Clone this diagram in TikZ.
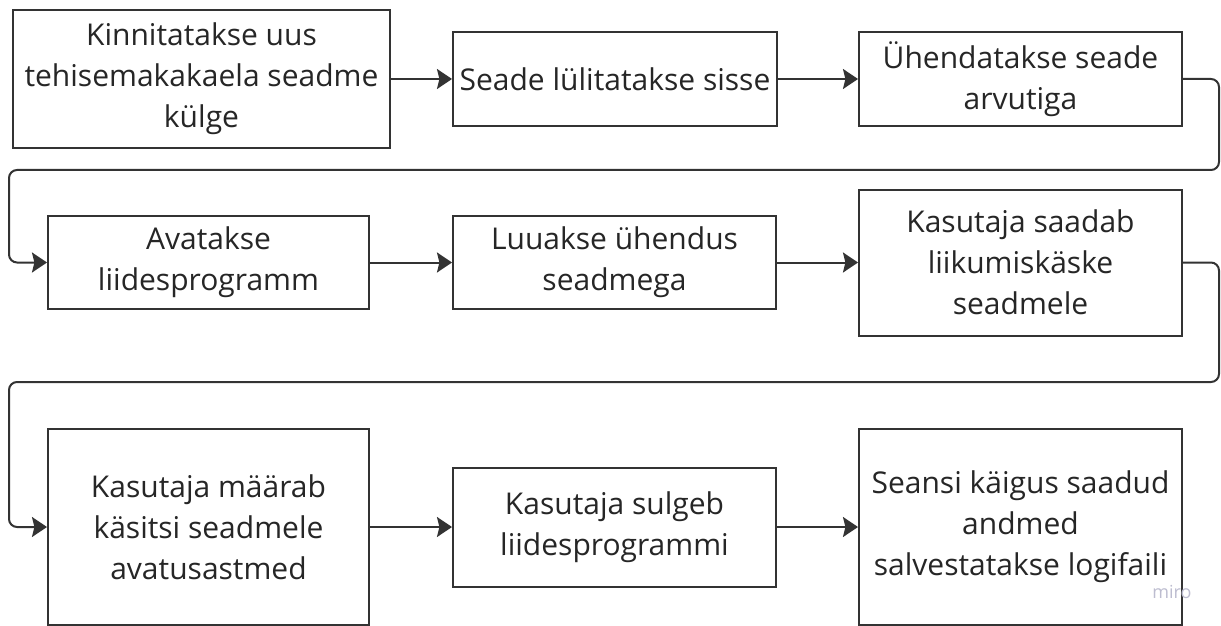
\documentclass[tikz,border=0pt]{standalone}
\usepackage{fontspec}
\setmainfont{Open Sans}
\usetikzlibrary{arrows.meta}
\definecolor{ink}{HTML}{333333}
\definecolor{txt}{HTML}{262626}
\definecolor{wm}{HTML}{BDBDD0}
\begin{document}
\begin{tikzpicture}[x=0.5pt,y=-0.5pt,
  stepbox/.style 2 args={draw=ink, line width=1pt, fill=white, inner sep=0pt,
    align=center, text=txt, font=\fontsize{15}{20.5}\selectfont,
    minimum width=#1*0.5pt, minimum height=#2*0.5pt},
  flow/.style={draw=ink, line width=1pt, rounded corners=4pt,
    -{Stealth[length=7.5pt,width=10pt,inset=1.2pt]}}]
\useasboundingbox (0,0) rectangle (1221,626);

% first row
\node[stepbox={377}{138}] (b1) at (201.5,79) {Kinnitatakse uus\\tehisemakakaela seadme\\külge};
\node[stepbox={324}{94}] (b2) at (615,79) {Seade lülitatakse sisse};
\node[stepbox={323}{94}] (b3) at (1020.5,79) {Ühendatakse seade\\arvutiga};

% second row
\node[stepbox={321}{93}] (b4) at (208.5,262.5) {Avatakse\\liidesprogramm};
\node[stepbox={323}{93}] (b5) at (614.5,262.5) {Luuakse ühendus\\seadmega};
\node[stepbox={323}{146}] (b6) at (1020.5,262.5) {Kasutaja saadab\\liikumiskäske\\seadmele};

% third row
\node[stepbox={321}{196}] (b7) at (208.5,527) {Kasutaja määrab\\käsitsi seadmele\\avatusastmed};
\node[stepbox={323}{119}] (b8) at (614.5,527) {Kasutaja sulgeb\\liidesprogrammi};
\node[stepbox={323}{196}] (b9) at (1020.5,527) {Seansi käigus saadud\\andmed\\salvestatakse logifaili};

% return paths between rows
\coordinate (r1) at (1219,170);
\coordinate (l1) at (9,170);
\coordinate (r2) at (1219,382);
\coordinate (l2) at (9,382);

% connectors
\draw[flow] (b1.east) -- (b2.west);
\draw[flow] (b2.east) -- (b3.west);
\draw[flow] (b3.east) -| (r1) -- (l1) |- (b4.west);
\draw[flow] (b4.east) -- (b5.west);
\draw[flow] (b5.east) -- (b6.west);
\draw[flow] (b6.east) -| (r2) -- (l2) |- (b7.west);
\draw[flow] (b7.east) -- (b8.west);
\draw[flow] (b8.east) -- (b9.west);

% watermark
\node[text=wm, font=\fontsize{9}{10}\selectfont, inner sep=0pt] (wmark) at (1172,592) {miro};
\end{tikzpicture}
\end{document}
